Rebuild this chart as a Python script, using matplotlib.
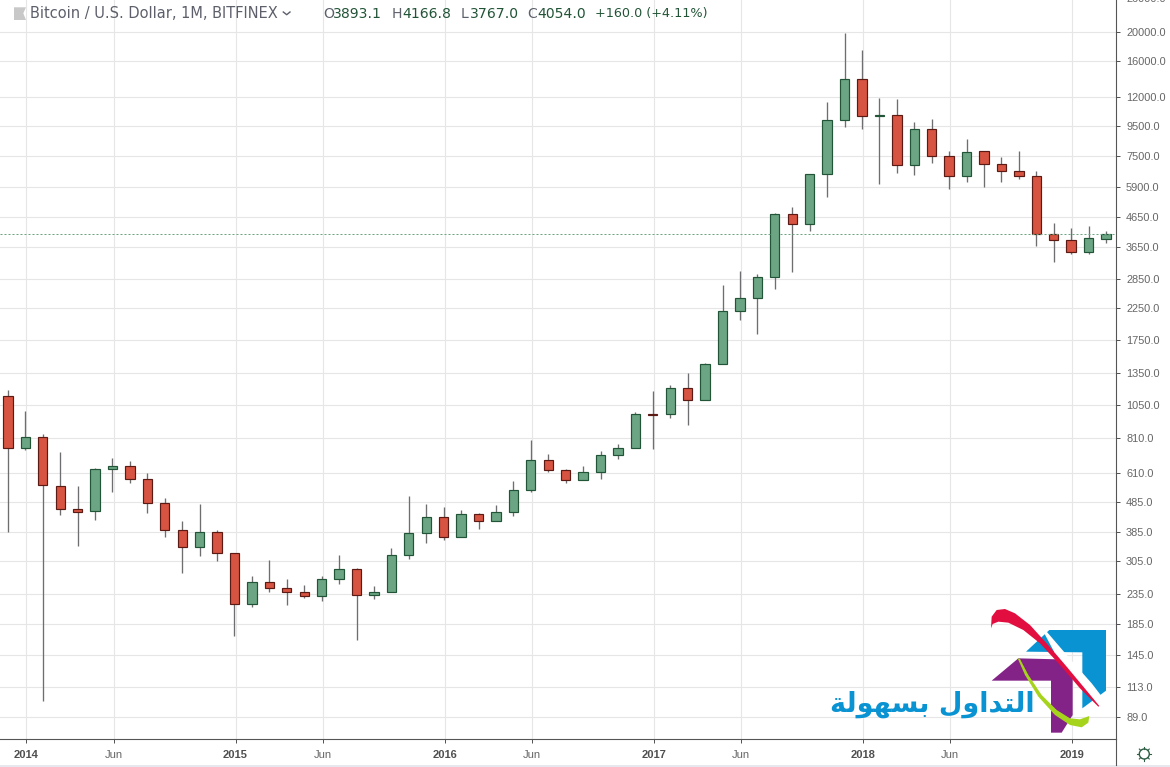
import matplotlib
matplotlib.use("Agg")
import matplotlib.pyplot as plt
from matplotlib.patches import Polygon, Circle, Rectangle
import numpy as np

# ---- data (monthly candles, Dec 2013 = index 0) ----
opens = [1123, 744, 812, 551, 459, 452, 630, 645, 582, 482, 389, 340, 383, 324, 217, 258,
         246, 238, 231, 264, 286, 233, 238, 319, 380, 431, 368, 441.5, 418, 448.5, 534, 677,
         625, 578, 615.5, 704, 744, 973, 973, 1196, 1088, 1446, 2200, 2437, 2879, 4738,
         4378, 6502, 9968, 13788, 10289, 10370, 6982, 9283, 7497, 6400, 7800, 7038, 6658,
         6400, 4045, 3857, 3508, 3893.1]
highs = [1180, 1000, 831, 721, 551, 635, 688, 671, 611, 501, 418, 478, 389, 324, 270, 307,
         264, 252, 270, 319, 288, 250, 337, 510, 479, 468, 456, 445, 474, 573, 793, 710,
         630, 645, 726, 768, 989, 1168, 1225, 1346, 1457, 2702, 3018, 2948, 4776, 5008,
         6502, 11494, 19900, 17386, 11864, 11770, 9812, 10047, 7800, 8576, 7800, 7439, 7800,
         6658, 4413, 4242, 4309, 4166.8]
lows = [385, 736, 101, 440, 344, 423, 528, 567, 447, 370, 278, 318, 306, 169, 212.6, 239,
        216, 228, 223, 255, 163.7, 226, 238, 311, 352, 361, 368, 394, 418, 436.6, 528, 618,
        567, 578, 582, 685, 744, 741, 947, 897, 1088, 1446, 2058, 1842, 2630, 3009,
        4162, 5446, 9476, 9327, 6036, 6585, 6481, 7127, 5801, 6132, 5894, 6132, 6280,
        3696, 3256, 3453, 3453, 3767]
closes = [744, 812, 555, 459, 451, 630, 645, 582, 482, 389, 340, 383, 324, 217, 258, 246,
          238, 231, 264, 286, 233, 238, 319, 380, 431, 368, 441.5, 418, 448.5, 534, 677, 625,
          578, 615.5, 704, 744, 973, 970, 1196, 1088, 1446, 2200, 2437, 2879, 4738, 4378,
          6502, 9968, 13788, 10289, 10370, 6982, 9283, 7497, 6400, 7739, 7038, 6658, 6400,
          4045, 3857, 3508, 3918, 4054]
price_ticks = [20000, 16000, 12000, 9500, 7500, 5900, 4650, 3650, 2850, 2250, 1750, 1350,
               1050, 810, 610, 485, 385, 305, 235, 185, 145, 113, 89]
month_ticks = [1, 6, 13, 18, 25, 30, 37, 42, 49, 54, 61]
month_labels = ['2014', 'Jun', '2015', 'Jun', '2016', 'Jun', '2017', 'Jun', '2018', 'Jun', '2019']
last_price = 4054.0
title = 'Bitcoin / U.S. Dollar, 1M, BITFINEX'
logo_text = '\uFE94\uFEDF\uFEEE\uFEEC\uFEB4\uFE91 \uFEDD\uFEED\uFE8D\uFEAA\uFE98\uFEDF\uFE8D'

UP, UP_E = '#6ba583', '#225437'
DN, DN_E = '#d75442', '#5b1a13'
WICK = '#6e6e70'
GRID = '#e6e6e6'
AXC = '#555555'
PX = 0.72

W, H = 1170, 767
fig = plt.figure(figsize=(W / 100, H / 100), dpi=100, facecolor='white')
ax = fig.add_axes([0, (H - 739) / H, 1116.3 / W, 739 / H])
ax.set_yscale('log')
ax.set_xlim(-0.453, 63.59)
ax.set_ylim(74.6, 25830)

ax.set_axisbelow(True)
ax.grid(True, color=GRID, lw=PX * 1.1)
ax.minorticks_off()
ax.yaxis.tick_right()
ax.set_yticks(price_ticks)
ax.set_yticklabels([f'{p:.1f}' for p in price_ticks], fontsize=7.9, color='#666666',
                   family='Liberation Sans')
ax.tick_params(axis='y', which='major', length=3, width=PX, color=AXC, pad=4)
ax.set_xticks(np.array(month_ticks) + 0.06)
ax.set_xticklabels(month_labels, fontsize=8, family='Liberation Sans', color='#666666')
for lab, txt in zip(ax.get_xticklabels(), month_labels):
    if txt != 'Jun':
        lab.set_fontweight('bold')
        lab.set_color('#4f4f4f')
ax.tick_params(axis='x', which='major', length=3, width=PX, color=AXC, pad=5)
for s in ('top', 'left'):
    ax.spines[s].set_visible(False)
for s in ('right', 'bottom'):
    ax.spines[s].set_color(AXC)
    ax.spines[s].set_linewidth(PX * 1.1)

idx = np.arange(len(opens))
o, h, l, c = map(np.array, (opens, highs, lows, closes))
ax.vlines(idx, l, h, color=WICK, lw=0.95, zorder=2)
up = c >= o
for mask, fc, ec in ((up, UP, UP_E), (~up, DN, DN_E)):
    lo = np.minimum(o, c)[mask]
    hi = np.maximum(o, c)[mask]
    ax.bar(idx[mask], hi - lo, bottom=lo, width=0.535, color=fc, edgecolor=ec,
           linewidth=0.85, zorder=3)
ax.axhline(last_price, color=UP, lw=PX, ls=(0, (2, 2)), zorder=4)
ax.text(1.0088, 26000, '26000.0', transform=ax.get_yaxis_transform(), fontsize=7.9,
        color='#666666', family='Liberation Sans', va='center', ha='left', clip_on=False)

# ---- overlay in pixel coordinates: legend line, logo, settings icon ----
ov = fig.add_axes([0, 0, 1, 1], zorder=10)
ov.set_xlim(0, W)
ov.set_ylim(H, 0)
ov.axis('off')
ov.patch.set_alpha(0)

ov.add_patch(Polygon([(14, 7.3), (26, 7.3), (23.3, 13.3), (26, 20), (14, 20)], fc='#c8c8c8', ec='none'))
TF = 'DejaVu Sans'
TS = 10.1
ov.text(30, 13.5, title, fontsize=10.55, family=TF, color='#5d606b', va='center', ha='left')
ov.plot([283.3, 286.7, 290], [12, 14.7, 12], color='#5d606b', lw=1)
for x_k, k, x_v, v in ((323, 'O', 332.5, '3893.1'), (392, 'H', 402, '4166.8'),
                       (461, 'L', 470, '3767.0'), (527, 'C', 537, '4054.0')):
    ov.text(x_k, 13.5, k, fontsize=TS, family=TF, color='#5d606b', va='center', ha='left')
    ov.text(x_v, 13.5, v, fontsize=TS, family=TF, color='#225437', va='center', ha='left')
ov.text(595, 13.5, '+160.0 (+4.11%)', fontsize=9.2, family=TF, color='#225437', va='center', ha='left')

def zp(pts):
    return [(980 + a / 3, 600 + b / 3) for a, b in pts]

ov.add_patch(Polygon(zp([(208, 90), (378, 90), (378, 272), (307, 325), (307, 157), (138, 155)]),
                     fc='#0a93d2', ec='none'))
ov.add_patch(Polygon(zp([(115, 175), (233, 178), (278, 215), (278, 345), (245, 398), (213, 398),
                         (213, 242), (35, 242)]), fc='#832387', ec='none'))
ov.add_patch(Polygon(zp([(185, 85), (200, 95), (280, 188), (335, 250), (372, 298), (358, 318),
                         (300, 255), (230, 170)]), fc='white', ec='none'))
ov.add_patch(Polygon(zp([(33, 85), (35, 50), (50, 30), (75, 27), (105, 40), (150, 75), (200, 130),
                         (260, 200), (310, 260), (358, 318), (355, 320), (300, 265), (240, 195),
                         (180, 130), (130, 90), (85, 68), (55, 65), (38, 72)]), fc='#e10e3f', ec='none'))
ov.add_patch(Polygon(zp([(113, 175), (120, 177), (145, 225), (185, 285), (230, 330), (270, 355),
                         (300, 358), (328, 348), (325, 368), (305, 382), (270, 375), (225, 345),
                         (175, 290), (135, 225)]), fc='#a6d41d', ec='none'))
ov.text(932, 704, logo_text, fontsize=19.5, family='DejaVu Sans', fontweight='bold', color='#0a93d2',
        ha='center', va='center')

ov.add_patch(Circle((1144.3, 754), 5, fc='none', ec='#2f5f45', lw=1))
for a in np.arange(8) * np.pi / 4:
    ov.plot([1144.3 + 5 * np.cos(a), 1144.3 + 7 * np.cos(a)],
            [754 + 5 * np.sin(a), 754 + 7 * np.sin(a)], color='#2f5f45', lw=0.8)
ov.plot([1116.3, 1116.3], [739, 765], color=AXC, lw=PX * 1.1)
ov.add_patch(Rectangle((0, 765), W, 2, fc='#e6e8ee', ec='none'))

fig.savefig('out.png', dpi=100)
